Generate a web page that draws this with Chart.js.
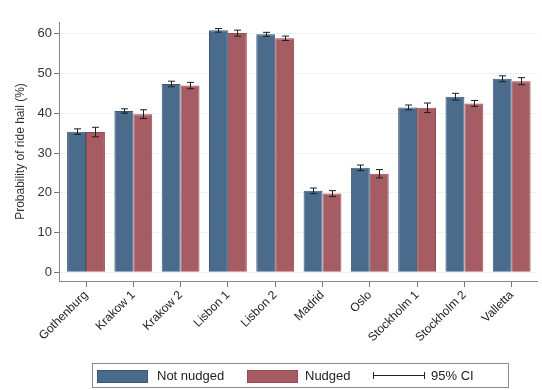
<!DOCTYPE html>
<html>
<head>
<meta charset="utf-8">
<script src="https://cdn.jsdelivr.net/npm/chart.js@4/dist/chart.umd.min.js"></script>
<style>
  html, body { margin: 0; padding: 0; background: #fff; }
  #wrap { position: relative; width: 542px; height: 390px; }
  #legend {
    position: absolute; left: 92px; top: 363px; width: 415px; height: 23px;
    border: 1px solid #8a8a8a; font: 13px "Liberation Sans", Arial, sans-serif; color: #222;
  }
  #legend .sw { position: absolute; top: 6px; width: 49px; height: 11px; }
  #legend .tx { position: absolute; top: 4px; }
  #legend .ci { position: absolute; left: 280px; top: 11px; width: 52px; height: 0; border-top: 1px solid #222; }
  #legend .ci:before, #legend .ci:after {
    content: ""; position: absolute; top: -4px; width: 0; height: 7px; border-left: 1px solid #222;
  }
  #legend .ci:before { left: 0; }
  #legend .ci:after { right: 0; }
</style>
</head>
<body>
<div id="wrap">
  <canvas id="c" width="542" height="390"></canvas>
  <div id="legend">
    <div class="sw" style="left:4px;background:#4a6b8c;border:1px solid #3a5878;"></div>
    <div class="tx" style="left:64px;">Not nudged</div>
    <div class="sw" style="left:154px;background:#a65c63;border:1px solid #974a51;"></div>
    <div class="tx" style="left:212px;">Nudged</div>
    <div class="ci"></div>
    <div class="tx" style="left:338px;">95% CI</div>
  </div>
</div>
<script>
const cities = ['Gothenburg', 'Krakow 1', 'Krakow 2', 'Lisbon 1', 'Lisbon 2', 'Madrid', 'Oslo', 'Stockholm 1', 'Stockholm 2', 'Valletta'];
const notNudged = [35.4, 40.6, 47.4, 60.9, 59.9, 20.5, 26.3, 41.5, 44.2, 48.7];
const notNudgedCI = [0.7, 0.55, 0.7, 0.45, 0.5, 0.7, 0.7, 0.6, 0.85, 0.75];
const nudged = [35.3, 39.8, 47.0, 60.2, 58.9, 19.8, 24.8, 41.4, 42.5, 48.1];
const nudgedCI = [1.2, 1.1, 0.8, 0.75, 0.55, 0.75, 1.05, 1.2, 0.75, 0.9];
const yTicks = [0, 10, 20, 30, 40, 50, 60];

const font = { family: '"Liberation Sans", Arial, sans-serif', size: 12 };

// whiskers with caps drawn over each bar
const errorBars = {
  id: 'errorBars',
  afterDatasetsDraw(chart) {
    const ctx = chart.ctx;
    const y = chart.scales.y;
    ctx.save();
    ctx.strokeStyle = '#1e1e1e';
    ctx.lineWidth = 1;
    chart.data.datasets.forEach((ds, di) => {
      chart.getDatasetMeta(di).data.forEach((bar, i) => {
        const v = ds.data[i].y, e = ds.ci[i];
        const x = Math.round(bar.x) + 0.5;
        const top = y.getPixelForValue(v + e), bot = y.getPixelForValue(v - e);
        ctx.beginPath();
        ctx.moveTo(x, top); ctx.lineTo(x, bot);
        ctx.moveTo(x - 3.5, top); ctx.lineTo(x + 3.5, top);
        ctx.moveTo(x - 3.5, bot); ctx.lineTo(x + 3.5, bot);
        ctx.stroke();
      });
    });
    ctx.restore();
  }
};

new Chart(document.getElementById('c'), {
  type: 'bar',
  data: {
    datasets: [
      {
        label: 'Not nudged',
        data: notNudged.map((v, i) => ({ x: i, y: v })),
        ci: notNudgedCI,
        backgroundColor: '#4a6b8c',
        borderColor: '#3a5878',
        borderWidth: 1
      },
      {
        label: 'Nudged',
        data: nudged.map((v, i) => ({ x: i, y: v })),
        ci: nudgedCI,
        backgroundColor: '#a65c63',
        borderColor: '#974a51',
        borderWidth: 1
      }
    ]
  },
  options: {
    responsive: false,
    animation: false,
    categoryPercentage: 0.8,
    barPercentage: 1.0,
    layout: { padding: { top: 22, right: 5, left: 0, bottom: 0 } },
    plugins: { legend: { display: false }, tooltip: { enabled: false } },
    scales: {
      x: {
        type: 'linear',
        min: -0.571,
        max: 9.535,
        offset: false,
        afterBuildTicks: (s) => { s.ticks = cities.map((c, i) => ({ value: i })); },
        afterFit: (s) => { s.height = 109; },
        grid: { offset: false, drawOnChartArea: false, tickLength: 6, tickColor: '#777' },
        border: { color: '#888', width: 1 },
        ticks: {
          autoSkip: false,
          minRotation: 45,
          maxRotation: 45,
          padding: 1,
          color: '#222',
          font: font,
          callback: (v) => cities[v]
        }
      },
      y: {
        min: -2.2,
        max: 63,
        afterBuildTicks: (s) => { s.ticks = yTicks.map(v => ({ value: v })); },
        afterFit: (s) => { s.width = 59; },
        grid: { color: '#edf2f2', tickLength: 5, tickColor: '#777' },
        border: { color: '#888', width: 1 },
        ticks: { color: '#333', font: { family: font.family, size: 13 }, padding: 2 },
        title: {
          display: true,
          text: 'Probability of ride hail (%)',
          color: '#333',
          font: font,
          padding: { top: 13, bottom: 0 }
        }
      }
    }
  },
  plugins: [errorBars]
});
</script>
</body>
</html>
